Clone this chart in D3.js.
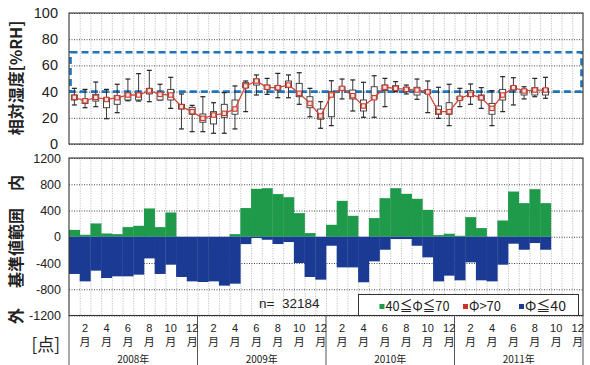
<!DOCTYPE html>
<html>
<head>
<meta charset="utf-8">
<script src="https://cdn.jsdelivr.net/npm/d3@7"></script>
<style>
  html, body { margin: 0; padding: 0; background: #fff; }
  svg { display: block; }
  text { font-family: "Liberation Sans", Arial, sans-serif; fill: #222; }
  .jp { font-family: "Noto Sans CJK JP", sans-serif; }
</style>
</head>
<body>
<svg id="chart" width="590" height="365"></svg>
<script>
// Months covered by the axis (Jan 2008 – Dec 2011)
const years = [2008, 2009, 2010, 2011];
const months = years.flatMap(y => d3.range(1, 13).map(m => `${y}-${m}`));

// Monthly relative humidity statistics [%RH] (Jan 2008 – Sep 2011)
const humMean  = [35.6,33,35.6,34,35.3,37.4,37.4,40.7,37.9,37.4,28.5,24.7,19.6,22.1,23.4,26.7,44.3,48.1,43.3,43,45,38.7,31,21.4,37.4,42.5,36.9,29,35.3,43.3,42.5,41.7,41.2,39.7,24.7,24.7,34.9,37.9,35.3,27.2,37.4,43,40.5,41.2,41.2];
const humQ3    = [37.4,34.3,37.9,35.3,36.9,38.7,38.7,42.5,39.2,41.7,30.3,28,22.9,24.7,30.3,33.6,46.8,49.6,45,44.5,48.1,46.3,36.1,26.7,39.9,43.7,41.2,33.6,43.7,45,44.5,43.3,43.3,41.5,29,31.5,36.1,40.7,37.4,31,41.7,44.3,41.7,43,42.5];
const humQ1    = [33.6,31,32.8,27.7,30.3,33.6,33.6,38.2,33.6,33.6,26.7,22.7,16.6,15.3,20.4,22.7,43,45,41.7,41.2,43,36.1,27.7,18.9,20.8,41.2,34.4,25.2,34.4,40.7,41.2,39.9,37.4,38.5,22.7,22.7,33.6,36.1,33.6,22.7,33.6,41.2,37.4,37.4,37.4];
const humMax   = [42.5,41.7,47.3,41.7,45.6,49.6,53.7,56.2,45.6,50.9,38.2,29.5,36.1,31.5,39.2,44.3,48.1,52.7,50.1,53.9,52.7,54.4,42.5,32.3,48.3,49.6,48.9,47.1,52.1,50.1,47.6,45,49.6,48.1,43.3,45.6,42.5,45.8,43,40.7,51.4,50.6,43.7,50.1,50.9];
const humMin   = [29.8,27.7,28.5,19.3,23.9,33,32.8,32.3,33.6,27.2,11.5,9.4,9.4,8.2,8.2,11.5,24.7,37.4,37.9,35.3,35.3,30.3,20.8,12,14,34.4,25.2,20.4,20.4,28.5,39.9,38.2,34.1,23.9,19.6,14,28.5,30.3,27.2,14,24.7,29.8,34.4,36.1,34.9];

// Monthly point counts by humidity band
const cntInside = [105,30,203,50,40,147,167,431,147,370,0,0,0,0,0,40,437,730,740,650,603,360,56,0,182,547,319,0,284,588,740,654,578,410,25,46,15,299,132,0,248,689,512,725,512];
const cntHigh   = new Array(45).fill(0);
const cntLow    = [567,680,517,629,603,603,578,330,567,426,613,680,690,680,745,715,112,20,46,111,81,400,613,654,137,467,467,694,375,198,35,35,137,314,680,593,664,390,664,680,426,106,198,96,198];

// Axis tick values and labels
const humTicks = [0, 20, 40, 60, 80, 100];
const cntTicks = [-1200, -800, -400, 0, 400, 800, 1200];
const labelMonths = [2, 4, 6, 8, 10, 12];
const rangeLow = 40, rangeHigh = 70;
const totalN = "32184";
const legendItems = [
  { key: "inside", label: "40≦Φ≦70", color: "#1f9a4b" },
  { key: "high",   label: "Φ>70",    color: "#d0302a" },
  { key: "low",    label: "Φ≦40",    color: "#1b3a93" }
];

const svg = d3.select("#chart");
const L = 69, R = 583;
const x = d3.scaleBand().domain(months).range([L, R]).padding(0);
const yH = d3.scaleLinear().domain([0, 100]).range([144, 13]);
const yC = d3.scaleLinear().domain([-1200, 1200]).range([315.5, 158]);
const bw = x.bandwidth();

function vGrid(g, y0, y1) {
  g.selectAll("line.vg").data(months.slice(1)).join("line")
    .attr("x1", d => x(d) + 0.5).attr("x2", d => x(d) + 0.5)
    .attr("y1", y0).attr("y2", y1)
    .attr("stroke", "#b9b9b9").attr("stroke-width", 0.9)
    .attr("stroke-dasharray", "1.2,1.3");
}

// ---------- Humidity panel ----------
const humG = svg.append("g");
vGrid(humG, 13, 144);
humG.append("g")
  .attr("transform", `translate(${L},0)`)
  .call(d3.axisLeft(yH).tickValues(humTicks).tickSize(-(R - L)).tickFormat(""))
  .call(g => g.select(".domain").remove())
  .call(g => g.selectAll(".tick line")
    .attr("stroke", "#333").attr("stroke-width", 0.9).attr("stroke-dasharray", "1,1.5"));
humG.selectAll("text.yt").data(humTicks).join("text")
  .attr("x", 58).attr("y", d => yH(d) + 5)
  .attr("text-anchor", "end").attr("font-size", 14.5)
  .text(d => d);

// Reference band 40–70 %RH
humG.append("rect")
  .attr("x", L + 1.5).attr("y", yH(rangeHigh))
  .attr("width", R - L - 3).attr("height", yH(rangeLow) - yH(rangeHigh))
  .attr("fill", "none").attr("stroke", "#1f74bd").attr("stroke-width", 2.6)
  .attr("stroke-dasharray", "7,4");

const cx = i => x(months[i]) + bw / 2;
const hs = humMean.map((m, i) => ({ i, m, q1: humQ1[i], q3: humQ3[i], lo: humMin[i], hi: humMax[i] }));
const box = humG.append("g");
box.selectAll("line.wh").data(hs).join("line")
  .attr("x1", d => cx(d.i)).attr("x2", d => cx(d.i))
  .attr("y1", d => yH(d.hi)).attr("y2", d => yH(d.lo))
  .attr("stroke", "#222").attr("stroke-width", 0.9);
["hi", "lo"].forEach(k => {
  box.append("g").selectAll("line").data(hs).join("line")
    .attr("x1", d => cx(d.i) - 2.5).attr("x2", d => cx(d.i) + 2.5)
    .attr("y1", d => yH(d[k])).attr("y2", d => yH(d[k]))
    .attr("stroke", "#222").attr("stroke-width", 1.2);
});
box.append("g").selectAll("rect").data(hs).join("rect")
  .attr("x", d => cx(d.i) - 3).attr("width", 6)
  .attr("y", d => yH(d.q3)).attr("height", d => yH(d.q1) - yH(d.q3))
  .attr("fill", "#fff").attr("stroke", "#333").attr("stroke-width", 0.9);
humG.append("path").datum(hs)
  .attr("fill", "none").attr("stroke", "#d2473a").attr("stroke-width", 1.3)
  .attr("d", d3.line().x(d => cx(d.i)).y(d => yH(d.m)));
humG.append("g").selectAll("rect").data(hs).join("rect")
  .attr("x", d => cx(d.i) - 2.2).attr("y", d => yH(d.m) - 2.2)
  .attr("width", 4.4).attr("height", 4.4)
  .attr("fill", "#fbe3df").attr("stroke", "#cf3a2e").attr("stroke-width", 1.1);

humG.append("rect").attr("x", L).attr("y", 13).attr("width", R - L).attr("height", 131)
  .attr("fill", "none").attr("stroke", "#333").attr("stroke-width", 1.1);

// ---------- Count panel ----------
const cntG = svg.append("g");
vGrid(cntG, 158, 315.5);
cntG.append("g")
  .attr("transform", `translate(${L},0)`)
  .call(d3.axisLeft(yC).tickValues(cntTicks).tickSize(-(R - L)).tickFormat(""))
  .call(g => g.select(".domain").remove())
  .call(g => g.selectAll(".tick line")
    .attr("stroke", "#333").attr("stroke-width", 0.9).attr("stroke-dasharray", "1,1.5"));
cntG.selectAll("text.yt").data(cntTicks).join("text")
  .attr("x", 61).attr("y", d => yC(d) + 4.5)
  .attr("text-anchor", "end").attr("font-size", 12.5)
  .text(d => d);

const rows = cntInside.map((v, i) => ({ month: months[i], inside: v, high: cntHigh[i], low: -cntLow[i] }));
const stack = d3.stack().keys(["inside", "high", "low"]).offset(d3.stackOffsetDiverging)(rows);
const colorOf = Object.fromEntries(legendItems.map(d => [d.key, d.color]));
cntG.append("g").selectAll("g").data(stack).join("g")
  .attr("fill", s => colorOf[s.key])
  .selectAll("rect").data(s => s).join("rect")
  .attr("x", d => x(d.data.month)).attr("width", bw + 0.3)
  .attr("y", d => yC(Math.max(d[0], d[1])))
  .attr("height", d => Math.abs(yC(d[0]) - yC(d[1])));

cntG.append("text").attr("x", 259).attr("y", 308).attr("font-size", 13.5)
  .attr("xml:space", "preserve").text("n=  " + totalN);

// Legend
const lg = cntG.append("g");
lg.append("rect").attr("x", 358.5).attr("y", 294.5).attr("width", 220).attr("height", 21)
  .attr("fill", "#fff").attr("stroke", "#333").attr("stroke-width", 1);
const lx = [379.5, 463, 519];
const lw = [64, 32, 41];
legendItems.forEach((d, i) => {
  lg.append("rect").attr("x", lx[i]).attr("y", 304).attr("width", 5).attr("height", 5).attr("fill", d.color);
  lg.append("text").attr("class", "jp").attr("x", lx[i] + 6).attr("y", 311).attr("font-size", 14)
    .attr("textLength", lw[i]).attr("lengthAdjust", "spacingAndGlyphs").text(d.label);
});

cntG.append("rect").attr("x", L).attr("y", 158).attr("width", R - L).attr("height", 157.5)
  .attr("fill", "none").attr("stroke", "#333").attr("stroke-width", 1.1);

// ---------- Time axis ----------
const ax = svg.append("g");
const yearEdges = years.map(y => x(`${y}-1`)).concat([R]);
ax.append("g").selectAll("line").data(yearEdges).join("line")
  .attr("x1", d => d).attr("x2", d => d).attr("y1", 315.5).attr("y2", 365)
  .attr("stroke", "#555").attr("stroke-width", 1);
const mlab = years.flatMap(y => labelMonths.map(m => ({ key: `${y}-${m}`, m })));
ax.append("g").selectAll("text").data(mlab).join("text")
  .attr("x", d => x(d.key) + bw / 2).attr("y", 332)
  .attr("text-anchor", "middle").attr("font-size", 11).text(d => d.m);
ax.append("g").selectAll("text").data(mlab).join("text").attr("class", "jp")
  .attr("x", d => x(d.key) + bw / 2).attr("y", 346)
  .attr("text-anchor", "middle").attr("font-size", 11).text("月");
ax.append("g").selectAll("text").data(years).join("text").attr("class", "jp")
  .attr("x", (d, i) => (yearEdges[i] + yearEdges[i + 1]) / 2).attr("y", 362.5)
  .attr("text-anchor", "middle").attr("font-size", 10).text(d => d + "年");

// ---------- Axis titles ----------
const titles = [
  { t: "相対湿度[%RH]", y: 78 },
  { t: "内", y: 183 },
  { t: "基準値範囲", y: 248 },
  { t: "外", y: 316 }
];
svg.append("g").selectAll("text").data(titles).join("text").attr("class", "jp")
  .attr("transform", d => `translate(22,${d.y}) rotate(-90)`)
  .attr("text-anchor", "middle").attr("font-size", 16).attr("font-weight", "bold")
  .text(d => d.t);
svg.append("text").attr("class", "jp")
  .attr("x", 60).attr("y", 351).attr("text-anchor", "end")
  .attr("font-size", 17).text("[点]");
</script>
</body>
</html>
